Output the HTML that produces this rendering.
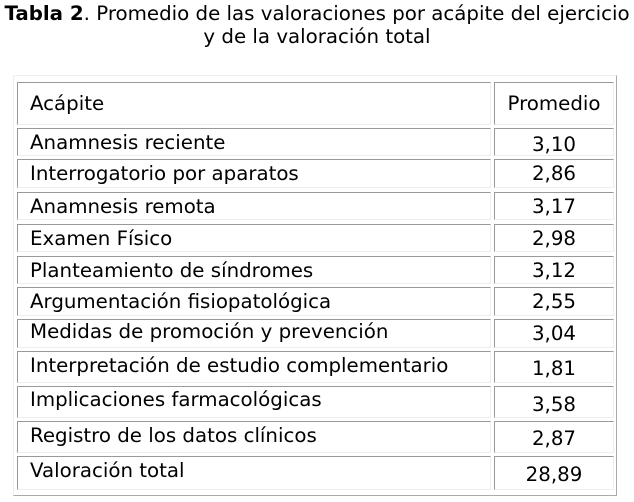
<!DOCTYPE html>
<html><head><meta charset="utf-8"><style>
body{margin:0;width:634px;height:502px;background:#fff;position:relative;overflow:hidden;font-family:"DejaVu Sans","Liberation Sans",sans-serif;color:#000}
.t{position:absolute;left:-20px;width:674px;text-align:center;font-size:19.8px;white-space:nowrap}
.o{position:absolute;left:13px;top:75px;width:602px;height:419px;border:1px solid #aaa;border-top-color:#eee;border-left-color:#eee}
.c{position:absolute;box-sizing:border-box;border:1px solid #eee;border-top-color:#999;border-left-color:#999;font-size:19.8px;white-space:nowrap;display:flex;align-items:center}
.l{left:17px;width:474px;padding-left:12px}
.r{left:494px;width:120px;justify-content:center}
</style></head><body>
<div class="t" style="top:2px;line-height:24px"><b>Tabla 2</b>. Promedio de las valoraciones por acápite del ejercicio</div>
<div class="t" style="top:25px;line-height:24px">y de la valoración total</div>
<div class="o"></div>
<div class="c l" style="top:82px;height:43px">Acápite</div><div class="c r" style="top:82px;height:43px">Promedio</div>
<div class="c l" style="top:128px;height:28px">Anamnesis reciente</div><div class="c r" style="top:128px;height:28px;padding-top:4px">3,10</div>
<div class="c l" style="top:159px;height:29px">Interrogatorio por aparatos</div><div class="c r" style="top:159px;height:29px">2,86</div>
<div class="c l" style="top:192px;height:28px">Anamnesis remota</div><div class="c r" style="top:192px;height:28px">3,17</div>
<div class="c l" style="top:224px;height:28px">Examen Físico</div><div class="c r" style="top:224px;height:28px">2,98</div>
<div class="c l" style="top:256px;height:28px">Planteamiento de síndromes</div><div class="c r" style="top:256px;height:28px">3,12</div>
<div class="c l" style="top:287px;height:29px">Argumentación fisiopatológica</div><div class="c r" style="top:287px;height:29px">2,55</div>
<div class="c l" style="top:319px;height:29px;padding-bottom:4px">Medidas de promoción y prevención</div><div class="c r" style="top:319px;height:29px">3,04</div>
<div class="c l" style="top:351px;height:32px;padding-bottom:4px">Interpretación de estudio complementario</div><div class="c r" style="top:351px;height:32px;padding-top:2px">1,81</div>
<div class="c l" style="top:386px;height:32px;padding-bottom:6px">Implicaciones farmacológicas</div><div class="c r" style="top:386px;height:32px;padding-top:4px">3,58</div>
<div class="c l" style="top:421px;height:32px;padding-bottom:4px">Registro de los datos clínicos</div><div class="c r" style="top:421px;height:32px;padding-top:2px">2,87</div>
<div class="c l" style="top:456px;height:34px;padding-bottom:6px">Valoración total</div><div class="c r" style="top:456px;height:34px;padding-top:2px">28,89</div>
</body></html>
